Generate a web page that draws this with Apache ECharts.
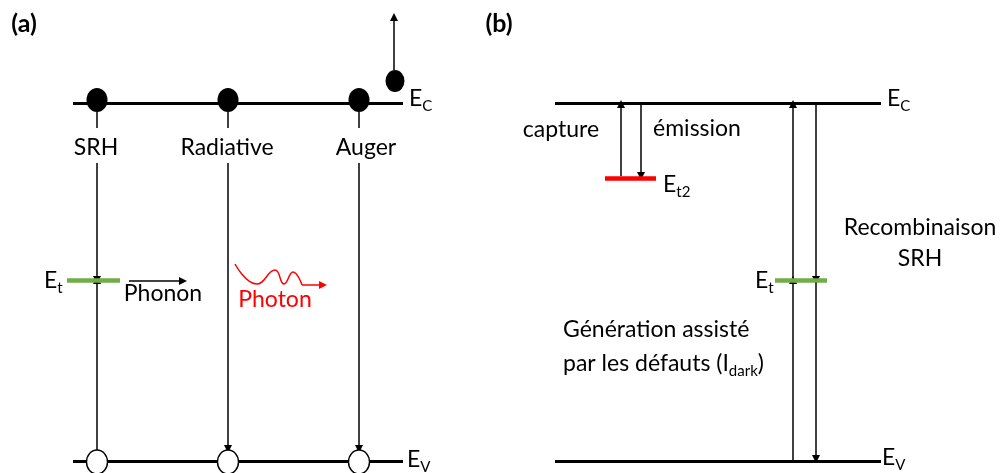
<!DOCTYPE html>
<html>
<head>
<meta charset="utf-8">
<script src="https://cdn.jsdelivr.net/npm/echarts@6/dist/echarts.min.js"></script>
<style>
  html, body { margin: 0; background: #fff; }
  #chart { width: 1008px; height: 473px; }
</style>
</head>
<body>
<div id="chart"></div>
<script>
// band edges [xStart, xEnd, y]
const bandLevels = [[73, 403, 103], [73, 403, 461], [555, 881, 103], [555, 881, 461]];
// trap levels [xStart, xEnd, y]
const greenTraps = [[67, 120, 280], [775, 827, 280]];
const redTraps = [[605, 656, 178]];
// plain segments [x1, y1, x2, y2]
const plainSegments = [[97, 112, 97, 128], [228, 112, 228, 128], [359, 112, 359, 128]];
// arrows [x1, y1, x2, y2], head at the second point
const blackArrows = [
  [97, 163, 97, 280], [97, 450, 97, 280],
  [228, 163, 228, 449], [359, 163, 359, 449],
  [394, 70, 394, 17],
  [129, 281, 183, 281],
  [621, 176, 621, 104], [641, 103, 641, 176],
  [793, 461, 793, 280], [793, 280, 793, 104],
  [816, 103, 816, 280], [816, 280, 816, 459]
];
const photonWave = [[235, 264], [257, 284], [275, 270], [284, 284], [293, 272], [302, 285]];
const photonArrow = [[302, 285, 323, 285]];
// carriers [x, y]
const electrons = [[97, 100], [228, 100], [359, 100]];
const augerElectron = [[395, 81]];
const holes = [[97, 462], [228, 462], [359, 462]];
// texts [x, y, text]
const panelTags = [[24, 24, '(a)'], [499, 24, '(b)']];
const centerTexts = [
  [96, 148, 'SRH'], [227, 148, 'Radiative'], [366, 148, 'Auger'],
  [163, 294, 'Phonon'], [561, 130, 'capture'], [697, 129, 'émission'],
  [920, 228, 'Recombinaison'], [920, 259, 'SRH']
];
const redTexts = [[275, 300, 'Photon']];
// left-aligned texts [x, y, main, subscript, tail]
const leftTexts = [
  [409, 99, 'E', 'C', ''], [407, 460, 'E', 'V', ''], [44, 281, 'E', 't', ''],
  [887, 99, 'E', 'C', ''], [882, 458, 'E', 'V', ''], [663, 185, 'E', 't2', ''],
  [755, 281, 'E', 't', ''],
  [563, 330, 'Génération assisté', '', ''],
  [563, 364, 'par les défauts (I', 'dark', ')']
];

const FONT = 'Lato';
const seg = (a) => ({ coords: [[a[0], a[1]], [a[2], a[3]]] });
const hseg = (a) => ({ coords: [[a[0], a[2]], [a[1], a[2]]] });

function lineSeries(data, color, width, arrow) {
  return {
    type: 'lines', coordinateSystem: 'cartesian2d', silent: true,
    symbol: arrow ? ['none', 'triangle'] : 'none', symbolSize: 8,
    lineStyle: { color, width, opacity: 1 },
    data
  };
}

function dotSeries(data, size, itemStyle) {
  return {
    type: 'scatter', data, symbol: 'circle', symbolSize: size, silent: true,
    itemStyle: Object.assign({ opacity: 1 }, itemStyle)
  };
}

function textSeries(items, label, formatter) {
  return {
    type: 'scatter', symbolSize: 0, silent: true,
    itemStyle: { opacity: 1 },
    data: items.map((t) => ({ value: [t[0], t[1]], raw: t })),
    label: Object.assign({
      show: true, position: 'inside', fontFamily: FONT, color: '#000', opacity: 1,
      formatter: (p) => formatter(p.data.raw)
    }, label)
  };
}

const chart = echarts.init(document.getElementById('chart'));
chart.setOption({
  animation: false,
  backgroundColor: '#fff',
  grid: { left: 0, right: 0, top: 0, bottom: 0 },
  xAxis: { type: 'value', min: 0, max: 1008, show: false },
  yAxis: { type: 'value', min: 0, max: 473, inverse: true, show: false },
  series: [
    lineSeries(bandLevels.map(hseg), '#000', 3, false),
    lineSeries(plainSegments.map(seg), '#000', 1.5, false),
    lineSeries(blackArrows.map(seg), '#000', 1.5, true),
    lineSeries(greenTraps.map(hseg), '#70AD47', 4.5, false),
    lineSeries(redTraps.map(hseg), '#FF0000', 4.5, false),
    {
      type: 'line', data: photonWave, smooth: 0.5, showSymbol: false, silent: true,
      lineStyle: { color: '#FF0000', width: 1.5 }
    },
    lineSeries(photonArrow.map(seg), '#FF0000', 1.5, true),
    dotSeries(electrons, [21, 24], { color: '#000' }),
    dotSeries(augerElectron, [19, 22], { color: '#000' }),
    dotSeries(holes, [21, 24], { color: '#fff', borderColor: '#000', borderWidth: 1.5 }),
    textSeries(panelTags, { fontSize: 25, fontWeight: 'bold' }, (t) => t[2]),
    textSeries(centerTexts, { fontSize: 23 }, (t) => t[2]),
    textSeries(redTexts, { fontSize: 23, color: '#FF0000' }, (t) => t[2]),
    textSeries(leftTexts, {
      align: 'left',
      rich: {
        m: { fontFamily: FONT, fontSize: 23, lineHeight: 30, color: '#000' },
        s: { fontFamily: FONT, fontSize: 15, lineHeight: 15, color: '#000', verticalAlign: 'bottom' }
      }
    }, (t) => '{m|' + t[2] + '}' + (t[3] ? '{s|' + t[3] + '}' : '') + (t[4] ? '{m|' + t[4] + '}' : ''))
  ]
});
</script>
</body>
</html>
